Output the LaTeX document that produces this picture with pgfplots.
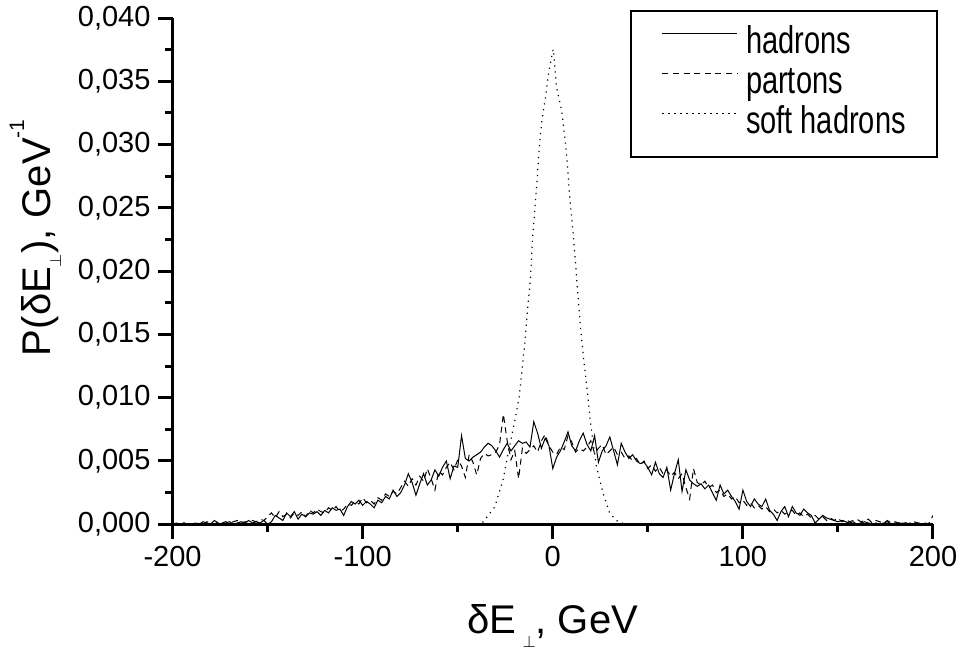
\documentclass[border=0pt]{standalone}
\usepackage{fontspec}
\setmainfont{Liberation Sans}
\usepackage{pgfplots}
\pgfplotsset{compat=1.18}

% one pixel of the reference = 0.5pt
\newcommand{\tickfont}{\fontsize{14.5}{16}\selectfont}
\newcommand{\labfont}{\fontsize{20}{22}\selectfont}
\newcommand{\legtext}[1]{\scalebox{1}[1.33]{#1}}

\begin{document}
\begin{tikzpicture}
\useasboundingbox (-86.25pt,-62.5pt) rectangle (394.5pt,262pt);
\begin{axis}[
  at={(0pt,0pt)}, anchor=south west,
  scale only axis, width=380pt, height=253pt,
  xmin=-200, xmax=200, ymin=0, ymax=0.04,
  enlargelimits=false,
  axis lines=left,
  axis line style={-, line width=1.5pt},
  tick align=outside,
  major tick length=7.5pt, minor tick length=3.8pt,
  every tick/.style={black, line width=1.5pt},
  xtick distance=100, ytick distance=0.005,
  minor x tick num=1, minor y tick num=1,
  scaled y ticks=false,
  /pgf/number format/assume math mode=true,
  yticklabel style={/pgf/number format/.cd, fixed, fixed zerofill, precision=3, use comma},
  tick label style={font=\tickfont},
  every axis x label/.style={at={(axis description cs:0.5,-0.2154)}, anchor=base, font=\labfont},
  every axis y label/.style={at={(axis description cs:-0.1612,0.566)}, anchor=base, rotate=90, font=\labfont},
  xlabel={δE\hspace{3pt}\raisebox{-7pt}{\fontsize{8}{8}\selectfont$\perp$}, GeV},
  ylabel={P(δE\raisebox{-5.5pt}{\fontsize{8}{8}\selectfont$\perp$}), GeV\raisebox{0.65em}{\fontsize{10.5}{11}\selectfont -1}},
  legend cell align=left,
  legend image code/.code={\draw[#1] (0pt,5pt) -- (37.5pt,5pt);},
  legend style={at={(axis description cs:1.006,1.0158)}, anchor=north east,
    draw=black, line width=0.8pt, inner xsep=15.5pt, inner ysep=7.5pt,
    row sep=2pt, column sep=4pt, font=\tickfont,
    nodes={inner sep=0pt, text height=14pt, text depth=4pt}},
]

% hadrons
\addplot[black, line width=0.5pt] coordinates {
(-200,0.0000) (-198,0.0001) (-196,0.0000) (-194,0.0001) (-192,0.0000) (-190,0.0000)
(-188,0.0001) (-186,0.0000) (-184,0.0002) (-182,0.0001) (-180,0.0000) (-178,0.0003)
(-176,0.0001) (-174,0.0000) (-172,0.0001) (-170,0.0002) (-168,0.0000) (-166,0.0001)
(-164,0.0002) (-162,0.0001) (-160,0.0003) (-158,0.0001) (-156,0.0002) (-154,0.0001)
(-152,0.0003) (-150,0.0000) (-148,0.0002) (-146,0.0007) (-144,0.0005) (-142,0.0003)
(-140,0.0009) (-138,0.0006) (-136,0.0010) (-134,0.0004) (-132,0.0008) (-130,0.0006)
(-128,0.0009) (-126,0.0008) (-124,0.0010) (-122,0.0007) (-120,0.0011) (-118,0.0009)
(-116,0.0013) (-114,0.0011) (-112,0.0012) (-110,0.0007) (-108,0.0014) (-106,0.0018)
(-104,0.0016) (-102,0.0019) (-100,0.0015) (-98,0.0018) (-96,0.0016) (-94,0.0013)
(-92,0.0019) (-90,0.0017) (-88,0.0022) (-86,0.0020) (-84,0.0027) (-82,0.0022)
(-80,0.0025) (-78,0.0031) (-76,0.0040) (-74,0.0033) (-72,0.0023) (-70,0.0032)
(-68,0.0040) (-66,0.0031) (-64,0.0035) (-62,0.0043) (-60,0.0038) (-58,0.0045)
(-56,0.0050) (-54,0.0036) (-52,0.0046) (-50,0.0045) (-48,0.0070) (-46,0.0052)
(-44,0.0050) (-42,0.0053) (-40,0.0055) (-38,0.0057) (-36,0.0061) (-34,0.0064)
(-32,0.0062) (-30,0.0058) (-28,0.0053) (-26,0.0059) (-24,0.0064) (-22,0.0058)
(-20,0.0062) (-18,0.0066) (-16,0.0064) (-14,0.0065) (-12,0.0061) (-10,0.0081)
(-8,0.0072) (-6,0.0060) (-4,0.0068) (-2,0.0062) (0,0.0044) (2,0.0053)
(4,0.0058) (6,0.0065) (8,0.0073) (10,0.0062) (12,0.0058) (14,0.0066)
(16,0.0072) (18,0.0063) (20,0.0058) (22,0.0070) (24,0.0049) (26,0.0058)
(28,0.0062) (30,0.0069) (32,0.0058) (34,0.0047) (36,0.0064) (38,0.0057)
(40,0.0052) (42,0.0055) (44,0.0050) (46,0.0048) (48,0.0049) (50,0.0045)
(52,0.0039) (54,0.0049) (56,0.0040) (58,0.0037) (60,0.0045) (62,0.0027)
(64,0.0040) (66,0.0051) (68,0.0026) (70,0.0043) (72,0.0035) (74,0.0032)
(76,0.0030) (78,0.0032) (80,0.0028) (82,0.0031) (84,0.0025) (86,0.0019)
(88,0.0031) (90,0.0024) (92,0.0027) (94,0.0022) (96,0.0018) (98,0.0012)
(100,0.0027) (102,0.0018) (104,0.0014) (106,0.0020) (108,0.0016) (110,0.0014)
(112,0.0020) (114,0.0011) (116,0.0008) (118,0.0003) (120,0.0010) (122,0.0014)
(124,0.0006) (126,0.0014) (128,0.0009) (130,0.0007) (132,0.0012) (134,0.0009)
(136,0.0007) (138,0.0001) (140,0.0004) (142,0.0007) (144,0.0005) (146,0.0004)
(148,0.0003) (150,0.0002) (152,0.0003) (154,0.0002) (156,0.0001) (158,0.0002)
(160,0.0000) (162,0.0001) (164,0.0002) (166,0.0001) (168,0.0000) (170,0.0001)
(172,0.0000) (174,0.0001) (176,0.0002) (178,0.0000) (180,0.0001) (182,0.0000)
(184,0.0001) (186,0.0000) (188,0.0001) (190,0.0000) (192,0.0001) (194,0.0000)
(196,0.0001) (198,0.0000) (200,0.0000)
};
\addlegendentry{\legtext{hadrons}}

% partons
\addplot[black, line width=0.5pt, dash pattern=on 3pt off 2.3pt] coordinates {
(-200,0.0001) (-198,0.0000) (-196,0.0000) (-194,0.0001) (-192,0.0000) (-190,0.0001)
(-188,0.0000) (-186,0.0001) (-184,0.0000) (-182,0.0002) (-180,0.0001) (-178,0.0000)
(-176,0.0002) (-174,0.0001) (-172,0.0002) (-170,0.0001) (-168,0.0002) (-166,0.0003)
(-164,0.0001) (-162,0.0002) (-160,0.0002) (-158,0.0003) (-156,0.0002) (-154,0.0004)
(-152,0.0003) (-150,0.0006) (-148,0.0009) (-146,0.0005) (-144,0.0010) (-142,0.0006)
(-140,0.0008) (-138,0.0005) (-136,0.0009) (-134,0.0007) (-132,0.0010) (-130,0.0006)
(-128,0.0011) (-126,0.0009) (-124,0.0012) (-122,0.0010) (-120,0.0009) (-118,0.0013)
(-116,0.0011) (-114,0.0014) (-112,0.0010) (-110,0.0012) (-108,0.0016) (-106,0.0015)
(-104,0.0018) (-102,0.0016) (-100,0.0021) (-98,0.0017) (-96,0.0019) (-94,0.0016)
(-92,0.0021) (-90,0.0019) (-88,0.0024) (-86,0.0022) (-84,0.0026) (-82,0.0024)
(-80,0.0029) (-78,0.0034) (-76,0.0030) (-74,0.0036) (-72,0.0031) (-70,0.0038)
(-68,0.0034) (-66,0.0044) (-64,0.0036) (-62,0.0027) (-60,0.0042) (-58,0.0039)
(-56,0.0045) (-54,0.0049) (-52,0.0043) (-50,0.0051) (-48,0.0046) (-46,0.0037)
(-44,0.0055) (-42,0.0049) (-40,0.0039) (-38,0.0052) (-36,0.0056) (-34,0.0054)
(-32,0.0055) (-30,0.0057) (-28,0.0063) (-26,0.0087) (-24,0.0066) (-22,0.0051)
(-20,0.0058) (-18,0.0036) (-16,0.0060) (-14,0.0056) (-12,0.0059) (-10,0.0062)
(-8,0.0057) (-6,0.0066) (-4,0.0071) (-2,0.0062) (0,0.0057) (2,0.0055)
(4,0.0061) (6,0.0059) (8,0.0070) (10,0.0065) (12,0.0057) (14,0.0060)
(16,0.0058) (18,0.0061) (20,0.0066) (22,0.0056) (24,0.0060) (26,0.0063)
(28,0.0055) (30,0.0058) (32,0.0061) (34,0.0055) (36,0.0057) (38,0.0052)
(40,0.0054) (42,0.0050) (44,0.0052) (46,0.0047) (48,0.0050) (50,0.0044)
(52,0.0047) (54,0.0042) (56,0.0045) (58,0.0040) (60,0.0043) (62,0.0038)
(64,0.0041) (66,0.0036) (68,0.0040) (70,0.0029) (72,0.0020) (74,0.0044)
(76,0.0033) (78,0.0031) (80,0.0034) (82,0.0029) (84,0.0031) (86,0.0025)
(88,0.0027) (90,0.0022) (92,0.0024) (94,0.0020) (96,0.0022) (98,0.0017)
(100,0.0019) (102,0.0015) (104,0.0017) (106,0.0013) (108,0.0015) (110,0.0012)
(112,0.0014) (114,0.0010) (116,0.0012) (118,0.0009) (120,0.0011) (122,0.0008)
(124,0.0010) (126,0.0011) (128,0.0007) (130,0.0009) (132,0.0006) (134,0.0008)
(136,0.0005) (138,0.0007) (140,0.0004) (142,0.0006) (144,0.0003) (146,0.0005)
(148,0.0003) (150,0.0005) (152,0.0002) (154,0.0004) (156,0.0002) (158,0.0003)
(160,0.0004) (162,0.0002) (164,0.0003) (166,0.0004) (168,0.0001) (170,0.0003)
(172,0.0002) (174,0.0001) (176,0.0003) (178,0.0001) (180,0.0002) (182,0.0001)
(184,0.0002) (186,0.0001) (188,0.0000) (190,0.0002) (192,0.0001) (194,0.0001)
(196,0.0000) (198,0.0001) (200,0.0007)
};
\addlegendentry{\legtext{partons}}

% soft hadrons
\addplot[black, line width=0.6pt, dash pattern=on 0.6pt off 2.4pt] coordinates {
(-40,0.0) (-36.7,0.00018) (-30.5,0.00137) (-26.2,0.00348) (-23.5,0.00561)
(-20.2,0.0080) (-17.7,0.01004) (-16.2,0.01217) (-14.7,0.01431) (-13.3,0.01692)
(-11.7,0.01953) (-10.7,0.02245) (-9.5,0.02482) (-8.3,0.02703) (-7.2,0.02964)
(-5.9,0.03170) (-3.8,0.03378) (-2.1,0.03576) (0.2,0.03753) (0.5,0.03723)
(1.9,0.03457) (4.6,0.03273) (6.3,0.03062) (7.5,0.02877) (8.9,0.02587)
(10.7,0.02300) (12.1,0.02032) (13.3,0.01794) (14.7,0.01534) (16.3,0.01296)
(18.1,0.01059) (20.0,0.00780) (23.0,0.00453) (26.5,0.00243) (30.0,0.00085)
(34.4,0.00018) (38.8,0.0)
};
\addlegendentry{\legtext{soft hadrons}}

\end{axis}
\end{tikzpicture}
\end{document}
